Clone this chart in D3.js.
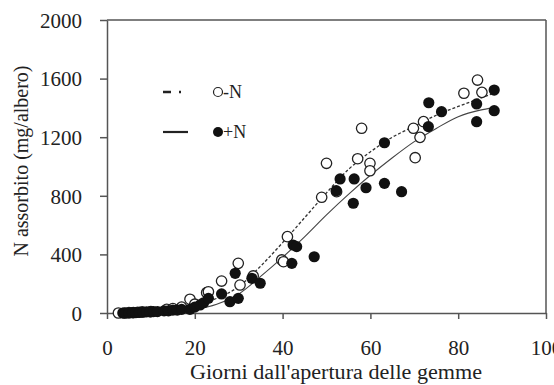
<!DOCTYPE html>
<html><head><meta charset="utf-8">
<script src="https://cdn.jsdelivr.net/npm/d3@7"></script>
<style>body{margin:0;background:#fff}svg{display:block}
svg text{font-family:"Liberation Serif","DejaVu Serif",serif !important;}
</style>
</head><body><svg id="c" width="554" height="385"></svg>
<script>
// -N observations (open circles): [day, mg/albero]
const minusN = [[2.6,0],[4,0],[5,2],[6,3],[7,5],[8,8],[10,10],[13.6,25],[15,30],[17,40],[18.9,94],[20,60],[22.7,139],[23.1,145],[26.1,218],[29.9,339],[30.3,191],[33.3,253],[39.8,362],[40.2,350],[41.1,521],[48.9,790],[50,1022],[52.3,828],[57.1,1053],[58,1261],[59.9,1022],[59.9,971],[69.8,1261],[70.2,1060],[71.3,1199],[72.1,1306],[81.3,1500],[84.4,1590],[85.4,1506]];
// +N observations (filled circles)
const plusN = [[3.6,0],[4.2,0],[5,0],[5.8,2],[6.6,3],[7.4,4],[8.2,5],[9,8],[9.8,8],[10.6,10],[11.5,10],[13,15],[14,15],[15,20],[16,20],[17,25],[18.9,25],[20,40],[21.2,55],[22,70],[23.1,100],[26.1,130],[28,77],[29.2,271],[29.9,100],[33,237],[34.9,203],[42.1,339],[42.4,464],[43.2,453],[47.2,384],[52.2,835],[53.1,915],[56.1,749],[56.3,915],[59,855],[63.2,885],[63.2,1162],[67.1,828],[73.2,1272],[73.3,1435],[76.2,1374],[84.2,1306],[84.2,1427],[88.2,1381],[88.2,1522]];
// fitted curves
const fitMinusN = [[3,0],[10,5],[15,20],[20,50],[25,100],[30,180],[35,320],[40,480],[45,650],[50,820],[55,980],[60,1100],[65,1200],[70,1275],[75,1350],[80,1410],[85,1465],[88,1500]];
const fitPlusN = [[3,0],[10,3],[15,10],[20,25],[25,60],[30,130],[35,250],[40,380],[45,520],[50,670],[55,810],[60,940],[65,1060],[70,1170],[75,1260],[80,1340],[85,1385],[88,1400]];
const xTicks = [0,20,40,60,80,100];
const yTicks = [0,400,800,1200,1600,2000];
const labels = {x:"Giorni dall'apertura delle gemme", y:"N assorbito (mg/albero)", minus:"-N", plus:"+N"};

const svg = d3.select("#c");
const L=107, R=546, T=20, B=313;
const x = d3.scaleLinear().domain([0,100]).range([L,R]);
const y = d3.scaleLinear().domain([0,2000]).range([B,T]);
const font = "Liberation Serif";
const axisCol = "#555";

// frame top/right
svg.append("line").attr("x1",L).attr("x2",R).attr("y1",T).attr("y2",T).attr("stroke",axisCol).attr("stroke-width",1.5);
svg.append("line").attr("x1",R).attr("x2",R).attr("y1",T).attr("y2",B).attr("stroke",axisCol).attr("stroke-width",1.5);

const gx = svg.append("g").attr("transform",`translate(0,${B})`)
  .call(d3.axisBottom(x).tickValues(xTicks).tickSize(6).tickSizeOuter(0).tickFormat(d3.format("d")));
const gy = svg.append("g").attr("transform",`translate(${L},0)`)
  .call(d3.axisLeft(y).tickValues(yTicks).tickSize(7).tickSizeOuter(0).tickFormat(d3.format("d")));
[gx,gy].forEach(g=>{
  g.attr("font-family",font);
  g.select(".domain").attr("stroke",axisCol).attr("stroke-width",1.5);
  g.selectAll(".tick line").attr("stroke",axisCol).attr("stroke-width",1.5);
  g.selectAll("text").attr("font-family",font).attr("font-size",21).attr("fill","#222");
});
gx.selectAll("text").attr("dy",null).attr("y",42);
gy.selectAll("text").attr("x",-25).attr("dy","0.35em");

// fitted curves
const line = d3.line().x(d=>x(d[0])).y(d=>y(d[1])).curve(d3.curveMonotoneX);
svg.append("path").datum(fitMinusN).attr("d",line).attr("fill","none").attr("stroke","#333").attr("stroke-width",1.3).attr("stroke-dasharray","3,2");
svg.append("path").datum(fitPlusN).attr("d",line).attr("fill","none").attr("stroke","#444").attr("stroke-width",1.1);

// points
svg.append("g").selectAll("circle").data(minusN).join("circle")
  .attr("cx",d=>x(d[0])).attr("cy",d=>y(d[1])).attr("r",5.2)
  .attr("fill","#fff").attr("stroke","#222").attr("stroke-width",1.3);
svg.append("g").selectAll("circle").data(plusN).join("circle")
  .attr("cx",d=>x(d[0])).attr("cy",d=>y(d[1])).attr("r",5.6)
  .attr("fill","#111");

// legend
const lg = svg.append("g");
lg.append("line").attr("x1",163).attr("x2",188).attr("y1",92).attr("y2",92).attr("stroke","#222").attr("stroke-width",2.5).attr("stroke-dasharray","8,8,2,20");
lg.append("circle").attr("cx",218).attr("cy",92).attr("r",4.5).attr("fill","#fff").attr("stroke","#222").attr("stroke-width",1.2);
lg.append("text").attr("x",223).attr("y",98).text(labels.minus).attr("font-family",font).attr("font-size",18).attr("fill","#222");
lg.append("line").attr("x1",163).attr("x2",188).attr("y1",132).attr("y2",132).attr("stroke","#222").attr("stroke-width",2.2);
lg.append("circle").attr("cx",218).attr("cy",132).attr("r",5).attr("fill","#111");
lg.append("text").attr("x",223).attr("y",138).text(labels.plus).attr("font-family",font).attr("font-size",18).attr("fill","#222");

// axis titles
svg.append("text").attr("x",190).attr("y",379).attr("textLength",292).attr("lengthAdjust","spacingAndGlyphs")
  .attr("font-family",font).attr("font-size",20).attr("fill","#222").text(labels.x);
svg.append("text").attr("transform","translate(28,161) rotate(-90)").attr("text-anchor","middle")
  .attr("font-family",font).attr("font-size",20).attr("fill","#222").text(labels.y);
</script></body></html>
